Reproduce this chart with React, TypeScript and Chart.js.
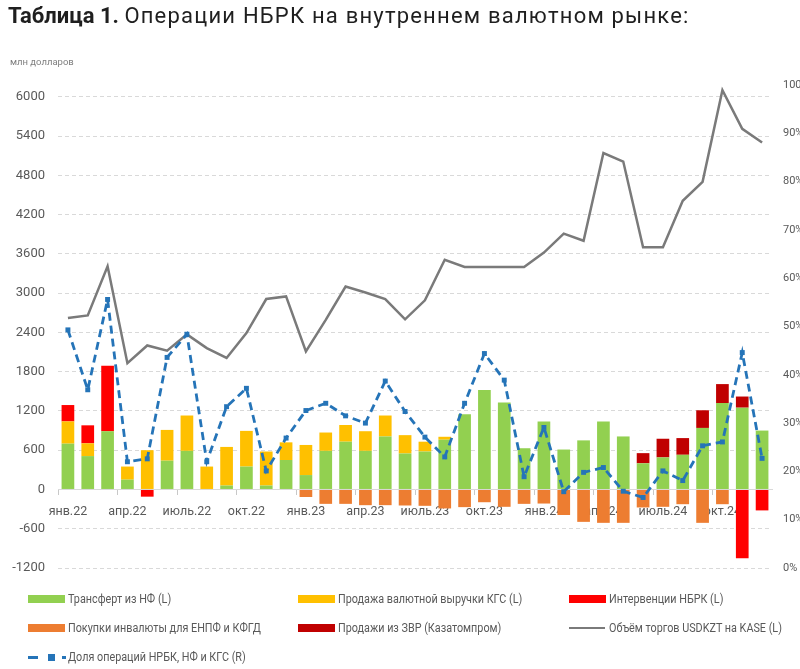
import React, { useEffect, useRef } from 'react';
import { Chart, registerables } from 'chart.js';

Chart.register(...registerables);

const months = [
  'янв.22', 'фев.22', 'мар.22', 'апр.22', 'май.22', 'июнь.22', 'июль.22', 'авг.22', 'сен.22', 'окт.22', 'ноя.22', 'дек.22',
  'янв.23', 'фев.23', 'мар.23', 'апр.23', 'май.23', 'июнь.23', 'июль.23', 'авг.23', 'сен.23', 'окт.23', 'ноя.23', 'дек.23',
  'янв.24', 'фев.24', 'мар.24', 'апр.24', 'май.24', 'июнь.24', 'июль.24', 'авг.24', 'сен.24', 'окт.24', 'ноя.24', 'дек.24',
];

// млн долларов
const transferNF = [
  700, 510, 890, 150, 0, 440, 590, 0, 60, 350, 60, 450,
  220, 590, 730, 590, 810, 550, 580, 760, 1150, 1520, 1330, 630,
  1040, 610, 750, 1040, 810, 400, 490, 530, 940, 1320, 1250, 900,
];
const salesKGS = [
  340, 195, 0, 200, 600, 470, 540, 350, 590, 545, 520, 270,
  460, 280, 255, 300, 320, 280, 150, 45, 0, 0, 0, 0,
  0, 0, 0, 0, 0, 0, 0, 0, 0, 0, 0, 0,
];
const interventions = [
  250, 275, 1000, 0, -110, 0, 0, 0, 0, 0, 0, 0,
  0, 0, 0, 0, 0, 0, 0, 0, 0, 0, 0, 0,
  0, 0, 0, 0, 0, 0, 0, 0, 0, 0, -1050, -320,
];
const purchasesPension = [
  0, 0, 0, 0, 0, 0, 0, 0, 0, 0, 0, 0,
  -115, -220, -220, -240, -240, -245, -250, -290, -270, -195, -265, -220,
  -215, -390, -495, -510, -510, -275, -265, -225, -510, -225, 0, 0,
];
const reserveSales = [
  0, 0, 0, 0, 0, 0, 0, 0, 0, 0, 0, 0,
  0, 0, 0, 0, 0, 0, 0, 0, 0, 0, 0, 0,
  0, 0, 0, 0, 0, 155, 285, 255, 270, 290, 170, 0,
];
const kaseVolume = [
  2620, 2660, 3410, 1930, 2200, 2120, 2370, 2160, 2010, 2390, 2910, 2950,
  2110, 2590, 3100, 3010, 2910, 2600, 2890, 3510, 3400, 3400, 3400, 3400,
  3620, 3910, 3800, 5140, 5010, 3700, 3700, 4410, 4700, 6100, 5510, 5300,
];
// %
const shareOps = [
  49.3, 36.9, 55.6, 22.0, 22.6, 43.6, 48.4, 22.0, 33.4, 37.2, 20.1, 26.9,
  32.6, 34.1, 31.5, 30.0, 38.7, 32.4, 27.1, 23.0, 34.1, 44.4, 38.9, 18.9,
  29.1, 15.8, 19.8, 20.8, 15.9, 14.6, 20.1, 18.1, 25.3, 26.1, 44.6, 22.7,
];
const leftTicks = [-1200, -600, 0, 600, 1200, 1800, 2400, 3000, 3600, 4200, 4800, 5400, 6000];

const GREEN = '#92D050';
const YELLOW = '#FFC000';
const RED = '#FF0000';
const ORANGE = '#ED7D31';
const DARKRED = '#C00000';
const GRAY = '#7A7A7A';
const BLUE = '#2574B8';
const TXT = '#595959';
const FONT = "Roboto, 'Liberation Sans', sans-serif";

const nz = (arr: number[]) => arr.map((v) => (v === 0 ? null : v));

type LegendItem = { label: string; kind: 'bar' | 'line' | 'dash'; color: string; x: number; y: number };
const legendItems: LegendItem[] = [
  { label: 'Трансферт из НФ (L)', kind: 'bar', color: GREEN, x: 28, y: 599 },
  { label: 'Продажа валютной выручки КГС (L)', kind: 'bar', color: YELLOW, x: 298, y: 599 },
  { label: 'Интервенции НБРК (L)', kind: 'bar', color: RED, x: 569, y: 599 },
  { label: 'Покупки инвалюты для ЕНПФ и КФГД', kind: 'bar', color: ORANGE, x: 28, y: 628 },
  { label: 'Продажи из ЗВР (Казатомпром)', kind: 'bar', color: DARKRED, x: 298, y: 628 },
  { label: 'Объём торгов USDKZT на KASE (L)', kind: 'line', color: GRAY, x: 569, y: 628 },
  { label: 'Доля операций НРБК, НФ и КГС (R)', kind: 'dash', color: BLUE, x: 28, y: 657 },
];

function Swatch({ item }: { item: LegendItem }) {
  if (item.kind === 'bar') {
    return <div style={{ position: 'absolute', left: 0, top: 3, width: 37, height: 8, background: item.color }} />;
  }
  if (item.kind === 'line') {
    return <div style={{ position: 'absolute', left: 0, top: 6, width: 36, height: 2, background: item.color }} />;
  }
  return (
    <>
      <div style={{ position: 'absolute', left: 0, top: 6, width: 10, height: 3, background: item.color }} />
      <div style={{ position: 'absolute', left: 20, top: 4, width: 7, height: 7, background: item.color }} />
      <div style={{ position: 'absolute', left: 34, top: 6, width: 4, height: 3, background: item.color }} />
    </>
  );
}

export default function App() {
  const ref = useRef<HTMLCanvasElement>(null);

  useEffect(() => {
    const chart = new Chart(ref.current as HTMLCanvasElement, {
      type: 'bar',
      data: {
        labels: months,
        datasets: [
          {
            type: 'line',
            label: 'Доля операций НРБК, НФ и КГС (R)',
            data: shareOps.map((v) => v / 100),
            yAxisID: 'y1',
            borderColor: BLUE,
            backgroundColor: BLUE,
            borderWidth: 2.8,
            borderDash: [8, 5],
            pointStyle: 'rect',
            pointRadius: 3.5,
            pointBackgroundColor: BLUE,
            pointBorderWidth: 0,
            tension: 0,
            order: 0,
          } as any,
          {
            type: 'line',
            label: 'Объём торгов USDKZT на KASE (L)',
            data: kaseVolume,
            yAxisID: 'y',
            stack: 'volume',
            borderColor: GRAY,
            borderWidth: 2.5,
            pointRadius: 0,
            tension: 0,
            order: 1,
          } as any,
          { label: 'Трансферт из НФ (L)', data: nz(transferNF), backgroundColor: GREEN, stack: 's', yAxisID: 'y', order: 2 },
          { label: 'Продажа валютной выручки КГС (L)', data: nz(salesKGS), backgroundColor: YELLOW, stack: 's', yAxisID: 'y', order: 2 },
          { label: 'Интервенции НБРК (L)', data: nz(interventions), backgroundColor: RED, stack: 's', yAxisID: 'y', order: 2 },
          { label: 'Покупки инвалюты для ЕНПФ и КФГД', data: nz(purchasesPension), backgroundColor: ORANGE, stack: 's', yAxisID: 'y', order: 2 },
          { label: 'Продажи из ЗВР (Казатомпром)', data: nz(reserveSales), backgroundColor: DARKRED, stack: 's', yAxisID: 'y', order: 2 },
        ] as any,
      },
      options: {
        animation: false,
        responsive: false,
        layout: { padding: { top: 85, bottom: 101, left: 0, right: 0 } },
        datasets: { bar: { barPercentage: 0.64, categoryPercentage: 1 } } as any,
        plugins: { legend: { display: false }, tooltip: { enabled: false } },
        scales: {
          x: {
            position: { y: 0 } as any,
            stacked: true,
            offset: true,
            grid: {
              display: true,
              offset: true,
              drawOnChartArea: false,
              drawTicks: true,
              tickLength: 5,
              color: (ctx: any) => (ctx.index % 3 === 0 ? '#c8c8c8' : 'rgba(0,0,0,0)'),
            },
            border: { display: true, color: '#d9d9d9', width: 1 },
            ticks: {
              autoSkip: false,
              maxRotation: 0,
              minRotation: 0,
              padding: 10,
              color: TXT,
              font: { family: FONT, size: 12.5 },
              callback: (_v: any, i: number) => (i % 3 === 0 ? months[i] : ''),
            },
            afterFit: (s: any) => {
              s.height = 0;
            },
          },
          y: {
            type: 'linear',
            position: 'left',
            stacked: true,
            min: -1200,
            max: 6180,
            afterBuildTicks: (s: any) => {
              s.ticks = leftTicks.map((v) => ({ value: v }));
            },
            ticks: {
              padding: 13,
              color: TXT,
              font: { family: FONT, size: 13 },
              callback: (v: any) => String(v),
            },
            grid: {
              drawTicks: false,
              lineWidth: 1,
              color: (ctx: any) => (ctx.tick && ctx.tick.value === 0 ? 'rgba(0,0,0,0)' : '#d9d9d9'),
            },
            border: { display: false, dash: [4, 3] },
            afterFit: (s: any) => {
              s.width = 58;
            },
          },
          y1: {
            type: 'linear',
            position: 'right',
            min: 0,
            max: 1,
            ticks: {
              stepSize: 0.1,
              padding: 11,
              color: TXT,
              font: { family: FONT, size: 11 },
              callback: (v: any) => Math.round(Number(v) * 100) + '%',
            },
            grid: { drawOnChartArea: false, drawTicks: false },
            border: { display: false },
            afterFit: (s: any) => {
              s.width = 28;
            },
          },
        },
      } as any,
    });
    return () => chart.destroy();
  }, []);

  return (
    <div style={{ position: 'absolute', left: 0, top: 0, width: 800, height: 669, background: '#fff', overflow: 'hidden' }}>
      <canvas ref={ref} width={800} height={669} style={{ position: 'absolute', left: 0, top: 0, display: 'block' }} />
      <div
        style={{
          position: 'absolute',
          left: 8,
          top: 3,
          fontFamily: 'Roboto, sans-serif',
          fontSize: 22,
          color: '#1f1f1f',
          whiteSpace: 'nowrap',
        }}
      >
        <b>Таблица 1.</b> <span style={{ letterSpacing: '1.2px' }}>Операции НБРК на внутреннем валютном рынке:</span>
      </div>
      <div
        style={{
          position: 'absolute',
          left: 10,
          top: 56,
          fontFamily: FONT,
          fontSize: 9.5,
          color: '#7f7f7f',
          whiteSpace: 'nowrap',
        }}
      >
        млн долларов
      </div>
      {legendItems.map((it) => (
        <div key={it.label} style={{ position: 'absolute', left: it.x, top: it.y - 7, height: 14, width: 260 }}>
          <Swatch item={it} />
          <div
            style={{
              position: 'absolute',
              left: 40,
              top: 0,
              lineHeight: '14px',
              fontFamily: FONT,
              fontSize: 12,
              color: TXT,
              whiteSpace: 'nowrap',
              transform: 'scaleX(0.9)',
              transformOrigin: 'left center',
            }}
          >
            {it.label}
          </div>
        </div>
      ))}
    </div>
  );
}
